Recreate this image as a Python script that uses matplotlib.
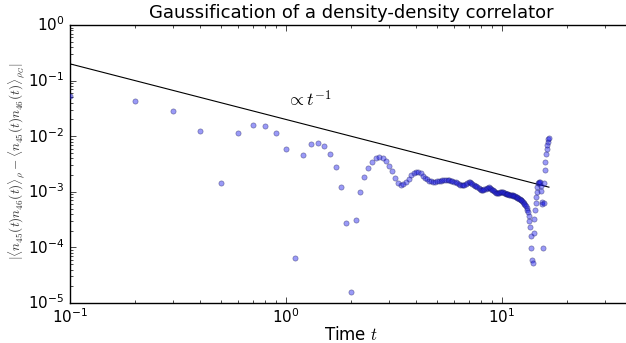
import numpy as np
import matplotlib
matplotlib.use("Agg")
import matplotlib.pyplot as plt

plt.style.use("classic")

# time grid (dt = 0.1)
times = [round(0.1 * k, 1) for k in range(1, 166)]

# log10 of |<n45 n46>_rho - <n45 n46>_rhoG|
log10_corr = [
    -1.271, -1.367, -1.553, -1.907, -2.848, -1.948, -1.800, -1.810, -1.937, -2.236,   # 0.1-1.0
    -4.185, -2.338, -2.146, -2.122, -2.180, -2.326, -2.554, -2.919, -3.556, -4.797,   # 1.1-2.0
    -3.507, -3.000, -2.734, -2.566, -2.458, -2.400, -2.374, -2.400, -2.450, -2.536,   # 2.1-3.0
    -2.630, -2.750, -2.836, -2.883, -2.865, -2.824, -2.764, -2.700, -2.667, -2.644,   # 3.1-4.0
    -2.638, -2.667, -2.707, -2.743, -2.770, -2.797, -2.809, -2.818, -2.818, -2.811,   # 4.1-5.0
    -2.802, -2.797, -2.791, -2.784, -2.782, -2.784, -2.791, -2.799, -2.806, -2.815,   # 5.1-6.0
    -2.829, -2.842, -2.856, -2.869, -2.881, -2.883, -2.869, -2.851, -2.838, -2.831,   # 6.1-7.0
    -2.829, -2.838, -2.852, -2.869, -2.887, -2.903, -2.914, -2.928, -2.942, -2.959,   # 7.1-8.0
    -2.968, -2.964, -2.950, -2.941, -2.932, -2.924, -2.921, -2.928, -2.942, -2.959,   # 8.1-9.0
    -2.973, -2.989, -3.004, -3.013, -3.016, -3.018, -3.014, -3.011, -3.009, -3.009,   # 9.1-10.0
    -3.011, -3.018, -3.027, -3.036, -3.043, -3.047, -3.047, -3.049, -3.050, -3.054,   # 10.1-11.0
    -3.058, -3.061, -3.067, -3.072, -3.079, -3.086, -3.094, -3.103, -3.111, -3.121,   # 11.1-12.0
    -3.129, -3.142, -3.155, -3.169, -3.183, -3.201, -3.219, -3.241, -3.264, -3.291,   # 12.1-13.0
    -3.327, -3.372, -3.435, -3.525, -3.633, -3.795, -4.011, -4.227, -4.286, -3.741,   # 13.1-14.0
    -3.489, -3.327, -3.201, -3.094, -3.004, -2.914, -2.842, -2.833, -2.824, -2.824,   # 14.1-15.0
    -2.896, -2.986, -3.178, -3.225, -4.016, -3.201, -2.836, -2.608, -2.459, -2.326,   # 15.1-16.0
    -2.236, -2.158, -2.099, -2.056, -2.041,                                           # 16.1-16.5
]

# reference power law  ~ A / t
guide_t = [0.1, 16.5]
guide_amp = 0.02

t = np.array(times)
corr = 10.0 ** np.array(log10_corr)
gt = np.array(guide_t)

fig = plt.figure(figsize=(6.26, 3.43), dpi=100, facecolor="white")
ax = fig.add_axes([70 / 626, 40 / 343, 562 / 626, 278 / 343])

ax.scatter(t, corr, s=14, c="#2020ee", alpha=0.45, edgecolors="#101050",
           linewidths=0.5, zorder=3)
ax.plot(gt, guide_amp / gt, color="k", lw=0.8, zorder=2)

ax.set_xscale("log")
ax.set_yscale("log")
ax.set_xlim(0.1, 40)
ax.set_ylim(1e-5, 1)

ax.text(1.0, 0.035, r"$\propto t^{-1}$", fontsize=13)

ax.set_title("Gaussification of a density-density correlator", fontsize=13, y=1.0)
ax.set_xlabel(r"Time $t$", fontsize=12, labelpad=0)
ax.set_ylabel(r"$|\langle n_{45}(t)n_{46}(t)\rangle_{\rho}-\langle n_{45}(t)n_{46}(t)\rangle_{\rho_G}|$",
              fontsize=9.5, color="#333333")
ax.yaxis.set_label_coords(-0.076, 0.51)
ax.tick_params(labelsize=11)
ax.tick_params(axis="x", which="major", pad=3)

fig.savefig("out.png", dpi=100, facecolor="white")
